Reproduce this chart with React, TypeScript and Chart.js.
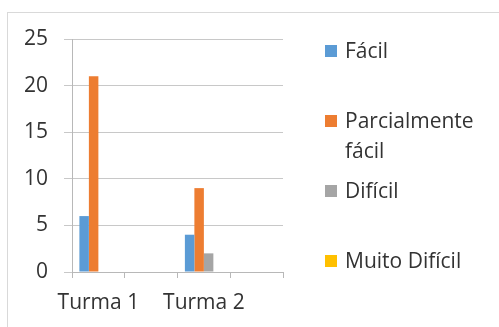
import React, { useEffect, useRef } from "react";
import { Chart, registerables } from "chart.js";

Chart.register(...registerables);

// Categories (every other slot is unlabelled)
const categories = ["Turma 1", "", "Turma 2", ""];

// Series
const seriesNames = ["Fácil", "Parcialmente fácil", "Difícil", "Muito Difícil"];
const facil = [6, 0, 4, 0];
const parcialmenteFacil = [21, 0, 9, 0];
const dificil = [0, 0, 2, 0];
const muitoDificil = [0, 0, 0, 0];
const seriesColors = ["#5b9bd5", "#ed7d31", "#a5a5a5", "#ffc000"];

// Value axis
const yMin = 0;
const yMax = 25;
const yStep = 5;

const FONT = "'Open Sans', 'Noto Sans', sans-serif";
const TEXT_COLOR = "#333333";

// Word-wrapped legend laid out in a column to the right of the plot
const sideLegend = {
  id: "sideLegend",
  afterDraw(chart: any, _args: any, opts: any) {
    const { ctx } = chart;
    const x = opts.x as number;
    const firstY = opts.firstY as number;
    const step = opts.step as number;
    const box = opts.box as number;
    const maxWidth = opts.maxWidth as number;
    const lineStep = opts.lineStep as number;
    ctx.save();
    ctx.font = `${opts.fontSize}px ${FONT}`;
    ctx.textBaseline = "alphabetic";
    ctx.textAlign = "left";
    chart.data.datasets.forEach((ds: any, i: number) => {
      const cy = firstY + i * step;
      ctx.fillStyle = ds.backgroundColor;
      ctx.fillRect(x, cy + 1 - box / 2, box, box);
      // wrap words
      const words = String(ds.label).split(" ");
      const lines: string[] = [];
      let cur = "";
      for (const w of words) {
        const t = cur ? cur + " " + w : w;
        if (cur && ctx.measureText(t).width > maxWidth) {
          lines.push(cur);
          cur = w;
        } else {
          cur = t;
        }
      }
      if (cur) lines.push(cur);
      ctx.fillStyle = TEXT_COLOR;
      lines.forEach((ln, j) => {
        ctx.fillText(ln, x + box + 8, cy + 7.5 + j * lineStep);
      });
    });
    ctx.restore();
  },
};

export default function App() {
  const canvasRef = useRef<HTMLCanvasElement | null>(null);

  useEffect(() => {
    document.body.style.margin = "0";
    const canvas = canvasRef.current;
    if (!canvas) return;
    const values = [facil, parcialmenteFacil, dificil, muitoDificil];
    const chart = new Chart(canvas, {
      type: "bar",
      data: {
        labels: categories,
        datasets: seriesNames.map((name, i) => ({
          label: name,
          data: values[i],
          backgroundColor: seriesColors[i],
          borderWidth: 0,
          categoryPercentage: 0.72,
          barPercentage: 1.0,
        })),
      },
      plugins: [sideLegend],
      options: {
        responsive: false,
        animation: false,
        devicePixelRatio: 1,
        layout: { padding: { left: 0, top: 39, right: 216, bottom: 0 } },
        plugins: {
          legend: { display: false },
          tooltip: { enabled: false },
          sideLegend: {
            x: 325,
            firstY: 50,
            step: 70,
            box: 12,
            maxWidth: 140,
            lineStep: 30,
            fontSize: 21,
          },
        } as any,
        scales: {
          x: {
            grid: {
              display: true,
              drawOnChartArea: false,
              drawTicks: true,
              tickLength: 6,
              color: "#b8b8b8",
              offset: true,
            },
            border: { display: true, color: "#b8b8b8" },
            ticks: {
              autoSkip: false,
              maxRotation: 0,
              minRotation: 0,
              padding: 12,
              color: TEXT_COLOR,
              font: { family: FONT, size: 21 },
            },
            afterFit: (scale: any) => {
              scale.height = 55;
            },
          },
          y: {
            min: yMin,
            max: yMax,
            ticks: {
              stepSize: yStep,
              padding: 16,
              color: TEXT_COLOR,
              font: { family: FONT, size: 21 },
            },
            grid: {
              color: "#c8c8c8",
              tickLength: 8,
              drawTicks: true,
            },
            border: { display: true, color: "#b8b8b8" },
            afterFit: (scale: any) => {
              scale.width = 72;
            },
          },
        },
      },
    });
    return () => chart.destroy();
  }, []);

  return (
    <div style={{ position: "relative", width: 499, height: 327, overflow: "hidden", background: "#fff" }}>
      <div
        style={{
          position: "absolute",
          left: 7,
          top: 12,
          width: 600,
          height: 400,
          border: "1px solid #d9d9d9",
          boxSizing: "border-box",
        }}
      />
      <canvas
        ref={canvasRef}
        width={499}
        height={327}
        style={{ position: "absolute", left: 0, top: 0, width: 499, height: 327 }}
      />
    </div>
  );
}
